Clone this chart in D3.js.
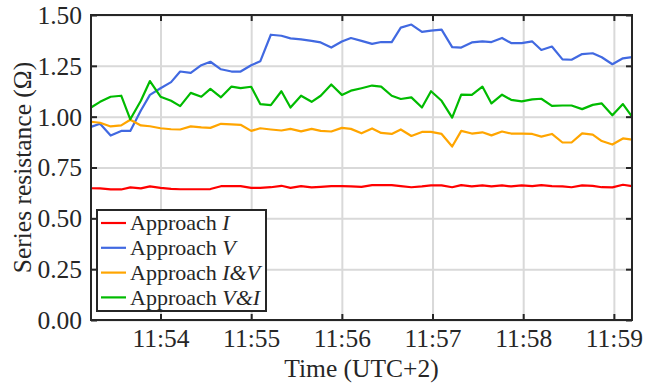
<!DOCTYPE html>
<html>
<head>
  <title>Series resistance</title>
  <script src="https://d3js.org/d3.v7.min.js"></script>
  <style>
    body { margin: 0; background: #fff; }
  </style>
</head>
<body>
<script type="text/javascript">

  // sample times (UTC+2)
  var times = ["11:53:14","11:53:20","11:53:27","11:53:34","11:53:40","11:53:47","11:53:53",
    "11:54:00","11:54:07","11:54:13","11:54:20","11:54:27","11:54:33","11:54:40","11:54:47","11:54:53",
    "11:55:00","11:55:06","11:55:13","11:55:20","11:55:26","11:55:33","11:55:40","11:55:46","11:55:53",
    "11:56:00","11:56:06","11:56:13","11:56:20","11:56:26","11:56:33","11:56:39","11:56:46","11:56:53","11:56:59",
    "11:57:06","11:57:13","11:57:19","11:57:26","11:57:33","11:57:39","11:57:46","11:57:52","11:57:59",
    "11:58:06","11:58:12","11:58:19","11:58:26","11:58:32","11:58:39","11:58:46","11:58:52","11:58:59",
    "11:59:06","11:59:12"];

  var approachI = [0.648,0.647,0.642,0.642,0.652,0.647,0.657,0.650,0.645,0.643,0.643,0.643,0.644,0.658,0.658,0.658,0.650,0.650,0.653,
    0.660,0.650,0.658,0.652,0.655,0.658,0.658,0.657,0.655,0.663,0.663,0.663,0.658,0.653,0.657,0.662,0.662,0.653,
    0.663,0.657,0.662,0.657,0.662,0.657,0.662,0.658,0.663,0.658,0.657,0.653,0.662,0.660,0.653,0.652,0.665,0.658];

  var approachV = [0.950,0.965,0.907,0.930,0.930,1.030,1.107,1.140,1.170,1.222,1.215,1.253,1.270,1.233,1.222,1.222,1.253,1.272,1.403,
    1.398,1.385,1.380,1.373,1.365,1.340,1.370,1.387,1.373,1.358,1.367,1.367,1.438,1.453,1.417,1.423,1.428,1.342,
    1.340,1.365,1.370,1.367,1.387,1.362,1.362,1.370,1.328,1.345,1.282,1.280,1.308,1.312,1.292,1.258,1.287,1.293];

  var approachIV = [0.975,0.970,0.952,0.957,0.985,0.957,0.953,0.943,0.938,0.937,0.952,0.947,0.945,0.965,0.962,0.960,0.930,0.943,0.937,
    0.932,0.940,0.928,0.940,0.930,0.927,0.945,0.940,0.918,0.942,0.920,0.915,0.937,0.905,0.925,0.925,0.915,0.853,
    0.930,0.917,0.923,0.908,0.927,0.917,0.917,0.915,0.902,0.915,0.873,0.873,0.918,0.912,0.880,0.863,0.893,0.887];

  var approachVI = [1.045,1.073,1.098,1.103,0.987,1.078,1.175,1.098,1.078,1.052,1.117,1.098,1.137,1.095,1.148,1.140,1.147,1.062,1.057,
    1.125,1.045,1.103,1.073,1.103,1.158,1.107,1.128,1.140,1.153,1.148,1.103,1.087,1.095,1.045,1.125,1.078,0.995,
    1.108,1.107,1.148,1.065,1.108,1.083,1.075,1.085,1.088,1.053,1.055,1.055,1.037,1.058,1.065,1.007,1.062,1.000];

  var yTicks = [0, 0.25, 0.5, 0.75, 1.0, 1.25, 1.5];

  var seriesNames = ["I", "V", "I&V", "V&I"];
  var seriesColors = ["#ff0000", "#4169e1", "#ffa500", "#00bb00"];
  var seriesValues = [approachI, approachV, approachIV, approachVI];

  var serif = "'Liberation Serif', 'Times New Roman', Times, 'DejaVu Serif', serif";
  var ink = "#262626";

  var w = 646, h = 388;
  var margin = {left: 91, right: 14, top: 15, bottom: 68};
  var pw = w - margin.left - margin.right;
  var ph = h - margin.top - margin.bottom;

  var parseTime = d3.timeParse("%H:%M:%S");
  var dates = times.map(parseTime);

  var svg = d3.select("body").append("svg")
      .attr("width", w)
      .attr("height", h);

  var g = svg.append("g")
      .attr("transform", "translate(" + margin.left + "," + margin.top + ")");

  var x = d3.scaleTime()
      .domain([dates[0], dates[dates.length - 1]])
      .range([0, pw]);

  var y = d3.scaleLinear()
      .domain([0, 1.5])
      .range([ph, 0]);

  var minuteTicks = d3.timeMinute.every(1);

  //grid
  var grid = g.append("g");
  grid.append("g")
      .attr("transform", "translate(0," + ph + ")")
      .call(d3.axisBottom(x).ticks(minuteTicks).tickSize(-ph).tickFormat(""));
  grid.append("g")
      .call(d3.axisLeft(y).tickValues(yTicks).tickSize(-pw).tickFormat(""));
  grid.selectAll(".domain").remove();
  grid.selectAll("line").attr("stroke", "#d9d9d9").attr("stroke-width", 2);

  //lines
  var line = d3.line()
      .x(function(d, i){ return x(dates[i]); })
      .y(function(d){ return y(d); });

  g.selectAll(".series")
      .data(seriesValues)
      .enter()
      .append("path")
      .attr("class", "series")
      .attr("fill", "none")
      .attr("stroke", function(d, i){ return seriesColors[i]; })
      .attr("stroke-width", 2.2)
      .attr("stroke-linejoin", "round")
      .attr("d", line);

  //axes with inward ticks
  var axes = g.append("g");
  var xAxis = axes.append("g")
      .attr("transform", "translate(0," + ph + ")")
      .call(d3.axisBottom(x).ticks(minuteTicks).tickFormat(d3.timeFormat("%H:%M")).tickSize(-6));
  xAxis.selectAll("text").attr("dy", null).attr("y", 27);

  var yAxis = axes.append("g")
      .call(d3.axisLeft(y).tickValues(yTicks).tickFormat(d3.format(".2f")).tickSize(-6));
  yAxis.selectAll("text").attr("dy", "0.33em").attr("x", -9);

  axes.append("g")
      .call(d3.axisTop(x).ticks(minuteTicks).tickFormat("").tickSize(-6));
  axes.append("g")
      .attr("transform", "translate(" + pw + ",0)")
      .call(d3.axisRight(y).tickValues(yTicks).tickFormat("").tickSize(-6));

  axes.selectAll(".domain").remove();
  axes.selectAll("line").attr("stroke", ink).attr("stroke-width", 2);
  axes.selectAll("text")
      .attr("fill", ink)
      .style("font-family", serif)
      .style("font-size", "25.5px");

  g.append("rect")
      .attr("width", pw)
      .attr("height", ph)
      .attr("fill", "none")
      .attr("stroke", ink)
      .attr("stroke-width", 2);

  //axis titles
  svg.append("text")
      .attr("x", margin.left + pw / 2)
      .attr("y", 377)
      .attr("text-anchor", "middle")
      .attr("fill", ink)
      .style("font-family", serif)
      .style("font-size", "25.5px")
      .text("Time (UTC+2)");

  svg.append("text")
      .attr("transform", "translate(31," + (margin.top + ph / 2) + ") rotate(-90)")
      .attr("text-anchor", "middle")
      .attr("fill", ink)
      .style("font-family", serif)
      .style("font-size", "25.5px")
      .text("Series resistance (\u03A9)");

  //legend
  var legend = svg.append("g")
      .attr("transform", "translate(97,210)");

  legend.append("rect")
      .attr("width", 169)
      .attr("height", 101)
      .attr("fill", "#fff")
      .attr("stroke", ink)
      .attr("stroke-width", 2);

  var entry = legend.selectAll(".entry")
      .data(seriesNames)
      .enter()
      .append("g")
      .attr("class", "entry")
      .attr("transform", function(d, i){ return "translate(0," + (13 + i * 24.8) + ")"; });

  entry.append("line")
      .attr("x1", 4).attr("x2", 29)
      .attr("stroke", function(d, i){ return seriesColors[i]; })
      .attr("stroke-width", 2.2);

  var lt = entry.append("text")
      .attr("x", 33)
      .attr("dy", "0.33em")
      .attr("fill", ink)
      .style("font-family", serif)
      .style("font-size", "22px");
  lt.append("tspan").text("Approach ");
  lt.append("tspan").style("font-style", "italic").text(function(d){ return d; });

</script>
</body>
</html>
